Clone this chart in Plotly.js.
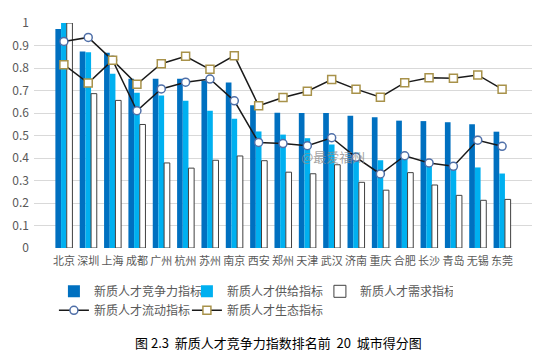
<!DOCTYPE html>
<html>
<head>
<meta charset="utf-8">
<script src="https://cdn.plot.ly/plotly-3.0.1.min.js"></script>
<style>html,body{margin:0;padding:0;background:#fff;}#chart{width:555px;height:362px;}</style>
</head>
<body>
<div id="chart"></div>
<script>
const cities = ['北京','深圳','上海','成都','广州','杭州','苏州','南京','西安','郑州','天津','武汉','济南','重庆','合肥','长沙','青岛','无锡','东莞'];
const competitiveness = [0.973,0.873,0.868,0.752,0.752,0.752,0.745,0.736,0.634,0.601,0.600,0.600,0.588,0.581,0.566,0.564,0.559,0.550,0.517];
const supply = [1.000,0.870,0.775,0.690,0.678,0.654,0.610,0.574,0.518,0.504,0.488,0.460,0.424,0.390,0.400,0.376,0.364,0.358,0.331];
const demand = [1.000,0.686,0.656,0.549,0.378,0.355,0.390,0.409,0.388,0.337,0.330,0.370,0.292,0.257,0.335,0.280,0.234,0.212,0.216];
const flow = [0.918,0.936,0.835,0.610,0.707,0.737,0.751,0.654,0.469,0.464,0.455,0.490,0.403,0.329,0.410,0.378,0.363,0.479,0.452];
const ecology = [0.815,0.733,0.835,0.728,0.819,0.852,0.794,0.855,0.632,0.669,0.697,0.749,0.706,0.670,0.735,0.757,0.754,0.769,0.706];
const yTicks = [0,0.1,0.2,0.3,0.4,0.5,0.6,0.7,0.8,0.9,1];
const yTickText = ['0','0.1','0.2','0.3','0.4','0.5','0.6','0.7','0.8','0.9','1'];
const seriesNames = ['新质人才竞争力指标','新质人才供给指标','新质人才需求指标','新质人才流动指标','新质人才生态指标'];
const caption = '图 2.3  新质人才竞争力指数排名前  20  城市得分图';
const watermark = '@最爱福州';

const gray = '#595959';
const font = 'Noto Sans CJK SC, sans-serif';

const traces = [
  {type:'bar', x:cities, y:competitiveness, name:seriesNames[0], marker:{color:'#0070c0'}},
  {type:'bar', x:cities, y:supply, name:seriesNames[1], marker:{color:'#00b0f0'}},
  {type:'bar', x:cities, y:demand, name:seriesNames[2], marker:{color:'#ffffff', line:{color:'#404040', width:1}}},
  {type:'scatter', mode:'lines+markers', x:cities, y:flow, name:seriesNames[3],
   line:{color:'#1a1a1a', width:1.5},
   marker:{symbol:'circle', size:8, color:'#ffffff', line:{color:'#4f6fa8', width:1.5}}},
  {type:'scatter', mode:'lines+markers', x:cities, y:ecology, name:seriesNames[4],
   line:{color:'#1a1a1a', width:1.5},
   marker:{symbol:'square', size:8, color:'#ffffff', line:{color:'#a8924a', width:1.5}}}
];

const layout = {
  width:555, height:362,
  margin:{l:34, r:23, t:23, b:114},
  paper_bgcolor:'#fff', plot_bgcolor:'#fff',
  font:{family:font, color:gray, size:12},
  barmode:'group', bargap:0.3, bargroupgap:0,
  showlegend:true,
  xaxis:{type:'category', showgrid:false, zeroline:false, showline:false, ticks:'', tickangle:0,
         ticklabelstandoff:5, tickfont:{family:font, size:11, color:gray}, fixedrange:true},
  yaxis:{range:[0,1], tickvals:yTicks, ticktext:yTickText, showgrid:true, gridcolor:'#d9d9d9', gridwidth:1,
         zeroline:false, showline:false, ticks:'', ticklabelstandoff:4,
         tickfont:{family:font, size:12, color:gray}, fixedrange:true},
  legend:{orientation:'h', x:0.04, xanchor:'left', y:-0.128, yanchor:'top',
          entrywidth:88, entrywidthmode:'pixels', traceorder:'normal',
          font:{family:font, size:12, color:gray}, bgcolor:'rgba(0,0,0,0)'},
  annotations:[
    {text:caption, xref:'paper', yref:'paper', x:0.49, y:-0.42, xanchor:'center', yanchor:'middle',
     showarrow:false, font:{family:font, size:13, color:'#000'}},
    {text:watermark, xref:'paper', yref:'paper', x:0.6, y:0.405, xanchor:'center', yanchor:'middle',
     showarrow:false, font:{family:font, size:13, color:'rgba(140,140,140,0.8)'}}
  ]
};

Plotly.newPlot('chart', traces, layout, {staticPlot:true, displayModeBar:false});
</script>
</body>
</html>
